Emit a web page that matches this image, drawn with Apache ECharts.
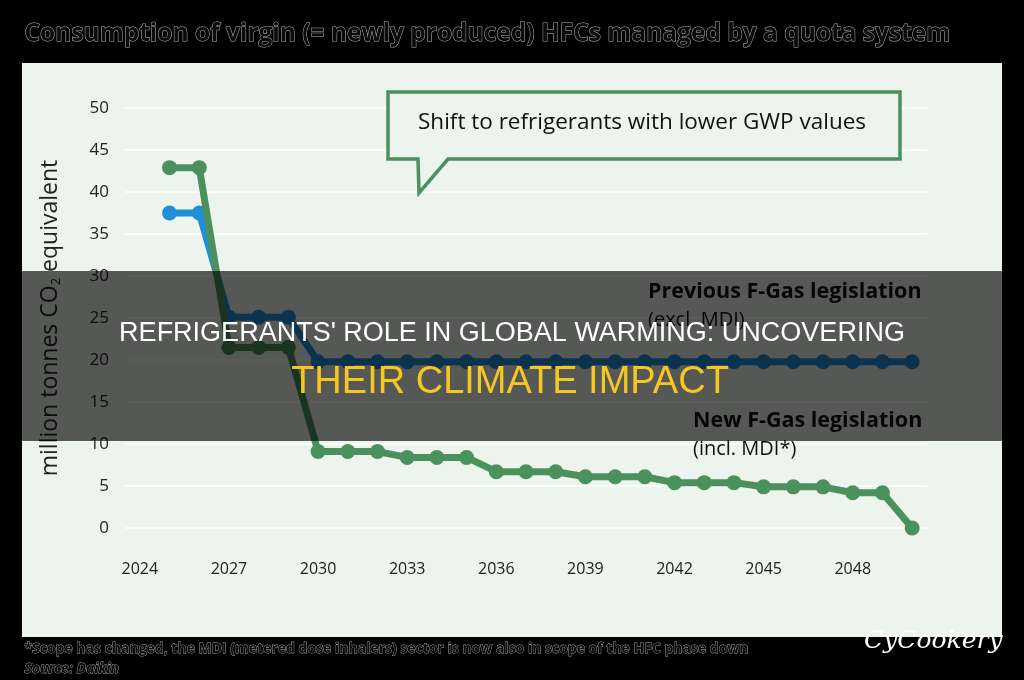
<!DOCTYPE html>
<html>
<head>
<meta charset="utf-8">
<script src="https://cdn.jsdelivr.net/npm/echarts@6/dist/echarts.min.js"></script>
<style>
  html, body { margin: 0; padding: 0; background: #000; }
  #chart { width: 1024px; height: 680px; }
</style>
</head>
<body>
<div id="chart"></div>
<script>
// years on the axis (2024 has no value in the chart)
const years = ['2024','2025','2026','2027','2028','2029','2030','2031','2032','2033','2034',
  '2035','2036','2037','2038','2039','2040','2041','2042','2043','2044','2045','2046','2047',
  '2048','2049','2050'];

// Previous F-Gas legislation (excl. MDI)
const previousQuota = [null, 37.5, 37.5, 25.1, 25.1, 25.1, 19.8, 19.8, 19.8, 19.8, 19.8,
  19.8, 19.8, 19.8, 19.8, 19.8, 19.8, 19.8, 19.8, 19.8, 19.8, 19.8, 19.8, 19.8, 19.8, 19.8, 19.8];

// New F-Gas legislation (incl. MDI*)
const newQuota = [null, 42.9, 42.9, 21.5, 21.5, 21.5, 9.1, 9.1, 9.1, 8.4, 8.4,
  8.4, 6.7, 6.7, 6.7, 6.1, 6.1, 6.1, 5.4, 5.4, 5.4, 4.9, 4.9, 4.9, 4.2, 4.2, 0];

const yTicks = { min: 0, max: 50, step: 5 };

const panelBg = '#edf3ed';
const green = '#4b915c';
const blue = '#1f8fd6';
const bodyFont = '"Open Sans", "Noto Sans", sans-serif';

const chart = echarts.init(document.getElementById('chart'));

const option = {
  backgroundColor: '#000',
  animation: false,
  grid: { left: 125, right: 97, top: 108, bottom: 152 },
  xAxis: {
    type: 'category',
    data: years,
    boundaryGap: true,
    axisLine: { show: false },
    axisTick: { show: false },
    axisLabel: {
      interval: 2,
      margin: 33,
      fontSize: 16,
      color: '#222',
      fontFamily: bodyFont
    }
  },
  yAxis: {
    type: 'value',
    min: yTicks.min,
    max: yTicks.max,
    interval: yTicks.step,
    axisLine: { show: false },
    axisTick: { show: false },
    axisLabel: { fontSize: 17, color: '#222', margin: 16, fontFamily: bodyFont },
    splitLine: { lineStyle: { color: '#fafcfa', width: 2 } },
    name: 'million tonnes CO{sub|2} equivalent',
    nameLocation: 'middle',
    nameRotate: 90,
    nameGap: 62,
    nameTextStyle: {
      fontSize: 23,
      color: '#222',
      fontFamily: bodyFont,
      rich: { sub: { fontSize: 13, color: '#222', padding: [12, 0, 0, 0] } }
    }
  },
  series: [
    {
      name: 'Previous F-Gas legislation',
      type: 'line',
      data: previousQuota,
      symbol: 'circle',
      symbolSize: 15,
      lineStyle: { color: blue, width: 7 },
      itemStyle: { color: blue },
      z: 3
    },
    {
      name: 'New F-Gas legislation',
      type: 'line',
      data: newQuota,
      symbol: 'circle',
      symbolSize: 15,
      lineStyle: { color: green, width: 7 },
      itemStyle: { color: green },
      z: 4
    }
  ],
  graphic: [
    { type: 'rect', z: -10, shape: { x: 22, y: 63, width: 980, height: 574 }, style: { fill: panelBg } },
    {
      type: 'text', left: 24, top: 21, z: 10,
      style: {
        text: 'Consumption of virgin (= newly produced) HFCs managed by a quota system',
        font: 'bold 24.5px "Open Sans", sans-serif',
        fill: '#0b0b0b', stroke: '#b0b0b0', lineWidth: 1
      }
    },
    {
      type: 'polygon', z: 10,
      shape: { points: [[388, 92], [900, 92], [900, 159], [448, 159], [419, 193], [418, 159], [388, 159]] },
      style: { fill: panelBg, stroke: green, lineWidth: 3.5 }
    },
    {
      type: 'text', left: 418, top: 111, z: 11,
      style: { text: 'Shift to refrigerants with lower GWP values', font: '22.5px "Open Sans", sans-serif', fill: '#111' }
    },
    {
      type: 'text', left: 648, top: 281, z: 20,
      style: { text: 'Previous F-Gas legislation', font: 'bold 21.5px "Open Sans", sans-serif', fill: '#111' }
    },
    {
      type: 'text', left: 648, top: 310, z: 20,
      style: { text: '(excl. MDI)', font: '20px "Open Sans", sans-serif', fill: '#111' }
    },
    {
      type: 'text', left: 693, top: 410, z: 20,
      style: { text: 'New F-Gas legislation', font: 'bold 21.5px "Open Sans", sans-serif', fill: '#111' }
    },
    {
      type: 'text', left: 693, top: 439, z: 20,
      style: { text: '(incl. MDI*)', font: '20px "Open Sans", sans-serif', fill: '#111' }
    },
    // dark banner with the headline
    { type: 'rect', z: 100, shape: { x: 22, y: 271, width: 980, height: 170 }, style: { fill: 'rgba(0,0,0,0.64)' } },
    {
      type: 'text', z: 101, x: 512, y: 334,
      style: {
        text: "REFRIGERANTS' ROLE IN GLOBAL WARMING: UNCOVERING",
        font: '27px "Liberation Sans", Arial, sans-serif',
        fill: '#fff', align: 'center', verticalAlign: 'middle'
      }
    },
    {
      type: 'text', z: 101, x: 510, y: 383,
      style: {
        text: 'THEIR CLIMATE IMPACT',
        font: '38px "Liberation Sans", Arial, sans-serif',
        fill: '#f6c623', align: 'center', verticalAlign: 'middle'
      }
    },
    {
      type: 'text', left: 24, top: 642, z: 10,
      style: {
        text: '*Scope has changed, the MDI (metered dose inhalers) sector is now also in scope of the HFC phase down',
        font: 'bold 14px "Open Sans", sans-serif',
        fill: '#0b0b0b', stroke: '#a8a8a8', lineWidth: 0.8
      }
    },
    {
      type: 'text', left: 24, top: 662, z: 10,
      style: {
        text: 'Source: Daikin',
        font: 'italic bold 14px "Open Sans", sans-serif',
        fill: '#0b0b0b', stroke: '#a8a8a8', lineWidth: 0.8
      }
    },
    {
      type: 'text', left: 864, top: 629, z: 10,
      style: { text: 'CyCookery', font: 'italic 25px "DejaVu Serif", serif', fill: '#fff' }
    }
  ]
};

chart.setOption(option);
</script>
</body>
</html>
